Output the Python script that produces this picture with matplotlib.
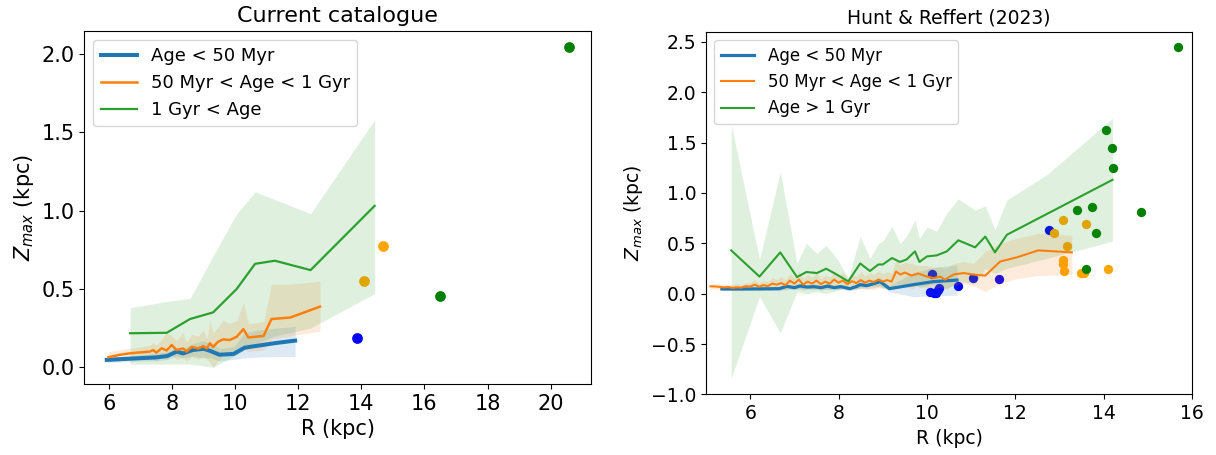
import matplotlib
matplotlib.use("Agg")
import matplotlib.pyplot as plt
import numpy as np

# ---------------- Left panel: Current catalogue ----------------
L_young_R = [5.93, 6.5, 7.0, 7.5, 7.85, 8.15, 8.35, 8.65, 9.0, 9.2, 9.5, 9.95, 10.3, 10.8, 11.3, 11.9]
L_young_Z = [0.047, 0.053, 0.058, 0.063, 0.072, 0.10, 0.088, 0.11, 0.118, 0.105, 0.08, 0.085, 0.125, 0.14, 0.155, 0.17]
L_young_lo = [0.03, 0.035, 0.04, 0.04, 0.05, 0.07, 0.06, 0.07, 0.06, 0.06, 0.04, 0.05, 0.06, 0.065, 0.068, 0.068]
L_young_hi = [0.065, 0.07, 0.08, 0.09, 0.10, 0.13, 0.12, 0.15, 0.17, 0.15, 0.12, 0.13, 0.22, 0.24, 0.25, 0.26]

L_mid_R = [5.98, 6.3, 6.66, 7.0, 7.3, 7.4, 7.5, 7.67, 7.83, 7.99, 8.14, 8.35, 8.46, 8.62, 8.83, 8.99,
           9.1, 9.2, 9.3, 9.46, 9.62, 9.83, 10.05, 10.26, 10.42, 10.9, 11.15, 11.74, 12.69]
L_mid_Z = [0.064, 0.078, 0.089, 0.095, 0.10, 0.11, 0.093, 0.121, 0.107, 0.142, 0.11, 0.12, 0.10, 0.13, 0.12, 0.135,
           0.12, 0.153, 0.13, 0.163, 0.178, 0.174, 0.195, 0.243, 0.19, 0.20, 0.308, 0.317, 0.387]
L_mid_lo = [0.035, 0.04, 0.05, 0.05, 0.05, 0.05, 0.04, 0.06, 0.05, 0.08, 0.05, 0.06, 0.04, 0.07, 0.05, 0.07,
            0.05, 0.03, 0.0, 0.04, 0.08, 0.08, 0.10, 0.12, 0.10, 0.11, 0.18, 0.20, 0.23]
L_mid_hi = [0.10, 0.11, 0.12, 0.13, 0.14, 0.16, 0.14, 0.18, 0.22, 0.20, 0.17, 0.22, 0.16, 0.21, 0.20, 0.24,
            0.18, 0.30, 0.22, 0.26, 0.30, 0.28, 0.30, 0.41, 0.28, 0.29, 0.53, 0.53, 0.55]

L_old_R = [6.67, 7.83, 8.57, 9.3, 10.05, 10.63, 11.26, 12.39, 14.42]
L_old_Z = [0.217, 0.22, 0.308, 0.35, 0.50, 0.66, 0.68, 0.62, 1.03]
L_old_lo = [0.02, 0.02, 0.02, 0.0, 0.08, 0.15, 0.20, 0.25, 0.47]
L_old_hi = [0.38, 0.42, 0.44, 0.71, 0.98, 1.12, 1.07, 0.98, 1.58]

L_pts_young_R = [13.87]
L_pts_young_Z = [0.185]
L_pts_mid_R = [14.08, 14.69]
L_pts_mid_Z = [0.55, 0.775]
L_pts_old_R = [16.49, 20.58]
L_pts_old_Z = [0.455, 2.046]

# ---------------- Right panel: Hunt & Reffert (2023) ----------------
H_young_R = [5.36, 5.8, 6.2, 6.66, 6.83, 7.0, 7.13, 7.28, 7.45, 7.6, 7.75, 7.9, 8.05, 8.26, 8.4, 8.49,
             8.64, 8.8, 8.94, 9.15, 9.7, 10.15, 10.68]
H_young_Z = [0.047, 0.047, 0.048, 0.05, 0.073, 0.06, 0.077, 0.066, 0.07, 0.06, 0.075, 0.06, 0.07, 0.05, 0.07, 0.09,
             0.08, 0.10, 0.12, 0.05, 0.09, 0.12, 0.135]
H_young_err = [0.015, 0.015, 0.015, 0.02, 0.025, 0.02, 0.03, 0.02, 0.025, 0.02, 0.03, 0.02, 0.025, 0.02, 0.03, 0.03,
               0.03, 0.04, 0.04, 0.03, 0.12, 0.14, 0.15]

H_mid_R = [5.1, 5.2, 5.3, 5.4, 5.5, 5.6, 5.7, 5.8, 5.9, 6.0, 6.1, 6.2, 6.3, 6.4, 6.5, 6.6, 6.7, 6.8, 6.9, 7.0,
           7.1, 7.2, 7.3, 7.4, 7.5, 7.6, 7.7, 7.8, 7.9, 8.0, 8.1, 8.2, 8.3, 8.4, 8.5, 8.6, 8.7, 8.8, 8.9, 9.0,
           9.1, 9.2, 9.3, 9.4, 9.5, 9.65, 9.8, 10.0, 10.15, 10.3, 10.41, 10.6, 10.83, 11.05, 11.32, 11.66,
           12.03, 12.52, 13.28]
H_mid_Z = [0.073, 0.072, 0.068, 0.062, 0.066, 0.058, 0.064, 0.060, 0.075, 0.070, 0.090, 0.070, 0.085, 0.075,
           0.100, 0.090, 0.105, 0.085, 0.130, 0.100, 0.140, 0.090, 0.120, 0.100, 0.130, 0.095, 0.120, 0.100,
           0.140, 0.110, 0.130, 0.095, 0.125, 0.105, 0.135, 0.110, 0.130, 0.115, 0.140, 0.120, 0.135, 0.120,
           0.220, 0.190, 0.210, 0.180, 0.200, 0.170, 0.155, 0.170, 0.140, 0.190, 0.205, 0.190, 0.180, 0.320,
           0.360, 0.430, 0.410]
H_mid_lo = [0.045, 0.045, 0.04, 0.035, 0.04, 0.03, 0.035, 0.03, 0.04, 0.035, 0.05, 0.03, 0.04, 0.035, 0.05,
            0.04, 0.05, 0.03, 0.06, 0.04, 0.06, 0.03, 0.05, 0.04, 0.05, 0.03, 0.05, 0.04, 0.06, 0.04, 0.05,
            0.03, 0.05, 0.04, 0.05, 0.04, 0.05, 0.04, 0.06, 0.05, 0.05, 0.05, 0.10, 0.08, 0.08, 0.05, 0.08,
            0.06, 0.05, 0.06, 0.05, 0.08, 0.10, 0.08, 0.02, 0.10, 0.15, 0.18, 0.19]
H_mid_hi = [0.10, 0.10, 0.10, 0.09, 0.10, 0.09, 0.10, 0.09, 0.11, 0.11, 0.14, 0.11, 0.13, 0.12, 0.16, 0.14,
            0.17, 0.14, 0.20, 0.16, 0.22, 0.15, 0.19, 0.16, 0.21, 0.15, 0.19, 0.16, 0.22, 0.18, 0.21, 0.15,
            0.20, 0.17, 0.22, 0.18, 0.21, 0.19, 0.23, 0.20, 0.22, 0.20, 0.33, 0.29, 0.31, 0.30, 0.28, 0.28,
            0.26, 0.27, 0.25, 0.30, 0.32, 0.30, 0.42, 0.50, 0.55, 0.60, 0.58]

H_old_R = [5.57, 6.21, 6.68, 7.06, 7.27, 7.51, 7.72, 7.96, 8.22, 8.49, 8.71, 8.90, 9.0, 9.21, 9.39, 9.54,
           9.73, 9.83, 10.0, 10.22, 10.45, 10.71, 11.09, 11.32, 11.54, 11.81, 12.71, 14.2]
H_old_Z = [0.43, 0.17, 0.41, 0.165, 0.215, 0.205, 0.248, 0.19, 0.122, 0.30, 0.225, 0.29, 0.29, 0.354, 0.315,
           0.34, 0.42, 0.315, 0.37, 0.38, 0.42, 0.53, 0.46, 0.567, 0.41, 0.585, 0.79, 1.13]
H_old_lo = [-0.84, -0.03, -0.39, 0.02, 0.0, 0.02, 0.0, 0.03, 0.08, 0.05, 0.08, 0.07, 0.06, 0.06, 0.10, 0.08,
            0.10, 0.06, 0.08, 0.10, 0.05, 0.12, 0.10, 0.25, 0.20, 0.25, 0.35, 0.52]
H_old_hi = [1.68, 0.34, 1.21, 0.30, 0.50, 0.40, 0.48, 0.35, 0.155, 0.57, 0.35, 0.50, 0.52, 0.67, 0.50, 0.57,
            0.73, 0.55, 0.66, 0.62, 0.80, 0.94, 0.83, 0.87, 0.635, 0.93, 1.18, 1.74]

H_pts_young_R = [10.11, 10.08, 10.15, 10.2, 10.25, 10.28, 10.71, 11.05, 11.62, 12.77]
H_pts_young_Z = [0.20, 0.02, 0.005, 0.01, 0.04, 0.06, 0.075, 0.155, 0.145, 0.635]
H_pts_mid_R = [12.88, 13.07, 13.16, 13.07, 13.09, 13.10, 13.48, 13.56, 13.61, 14.09]
H_pts_mid_Z = [0.60, 0.73, 0.476, 0.33, 0.29, 0.23, 0.205, 0.21, 0.69, 0.245]
H_pts_old_R = [13.40, 13.74, 13.83, 13.60, 14.05, 14.19, 14.20, 14.85, 15.68]
H_pts_old_Z = [0.83, 0.86, 0.60, 0.25, 1.62, 1.45, 1.25, 0.81, 2.45]

fig = plt.figure(figsize=(12.16, 4.55), dpi=100)

# ---------- left ----------
axL = fig.add_axes([0.0693, 0.156, 0.417, 0.7765])
fsL = 15
axL.scatter(L_pts_young_R, L_pts_young_Z, color='blue', s=60, zorder=1, linewidths=0)
axL.scatter(L_pts_mid_R, L_pts_mid_Z, color='orange', s=60, zorder=1, linewidths=0)
axL.scatter(L_pts_old_R, L_pts_old_Z, color='green', s=60, zorder=1, linewidths=0)
axL.fill_between(L_young_R, L_young_lo, L_young_hi, color='C0', alpha=0.15, lw=0, zorder=1.5)
axL.fill_between(L_mid_R, L_mid_lo, L_mid_hi, color='C1', alpha=0.15, lw=0, zorder=1.5)
axL.fill_between(L_old_R, L_old_lo, L_old_hi, color='C2', alpha=0.15, lw=0, zorder=1.5)
axL.plot(L_young_R, L_young_Z, color='C0', lw=2.9, label='Age < 50 Myr', zorder=2)
axL.plot(L_mid_R, L_mid_Z, color='C1', lw=1.8, label='50 Myr < Age < 1 Gyr', zorder=2)
axL.plot(L_old_R, L_old_Z, color='C2', lw=1.6, label='1 Gyr < Age', zorder=2)
axL.set_xlim(5.217, 21.29)
axL.set_ylim(-0.107, 2.148)
axL.set_xticks([6, 8, 10, 12, 14, 16, 18, 20])
axL.set_yticks([0.0, 0.5, 1.0, 1.5, 2.0])
axL.tick_params(labelsize=fsL)
axL.set_xlabel('R (kpc)', fontsize=fsL)
axL.set_ylabel(r'$Z_{max}$ (kpc)', fontsize=fsL)
axL.set_title('Current catalogue', fontsize=16)
axL.legend(loc='upper left', fontsize=13)

# ---------- right ----------
axR = fig.add_axes([0.5806, 0.133, 0.3997, 0.7974])
fsR = 13.5
axR.scatter(H_pts_young_R, H_pts_young_Z, color='blue', s=45, zorder=1, linewidths=0)
axR.scatter(H_pts_mid_R, H_pts_mid_Z, color='orange', s=45, zorder=1, linewidths=0)
axR.scatter(H_pts_old_R, H_pts_old_Z, color='green', s=45, zorder=1, linewidths=0)
yz = np.array(H_young_Z)
ye = np.array(H_young_err)
axR.fill_between(H_young_R, yz - ye, yz + ye, color='C0', alpha=0.15, lw=0, zorder=1.5)
axR.fill_between(H_mid_R, H_mid_lo, H_mid_hi, color='C1', alpha=0.15, lw=0, zorder=1.5)
axR.fill_between(H_old_R, H_old_lo, H_old_hi, color='C2', alpha=0.15, lw=0, zorder=1.5)
axR.plot(H_young_R, H_young_Z, color='C0', lw=2.3, label='Age < 50 Myr', zorder=2)
axR.plot(H_mid_R, H_mid_Z, color='C1', lw=1.5, label='50 Myr < Age < 1 Gyr', zorder=2)
axR.plot(H_old_R, H_old_Z, color='C2', lw=1.5, label='Age > 1 Gyr', zorder=2)
axR.set_xlim(5.0, 16.0)
axR.set_ylim(-1.0, 2.6)
axR.set_xticks([6, 8, 10, 12, 14, 16])
axR.set_yticks([-1.0, -0.5, 0.0, 0.5, 1.0, 1.5, 2.0, 2.5])
axR.tick_params(labelsize=fsR)
axR.set_xlabel('R (kpc)', fontsize=fsR)
axR.set_ylabel(r'$Z_{max}$ (kpc)', fontsize=fsR)
axR.set_title('Hunt & Reffert (2023)', fontsize=13.5)
axR.legend(loc='upper left', fontsize=12)

fig.savefig('out.png', dpi=100)
